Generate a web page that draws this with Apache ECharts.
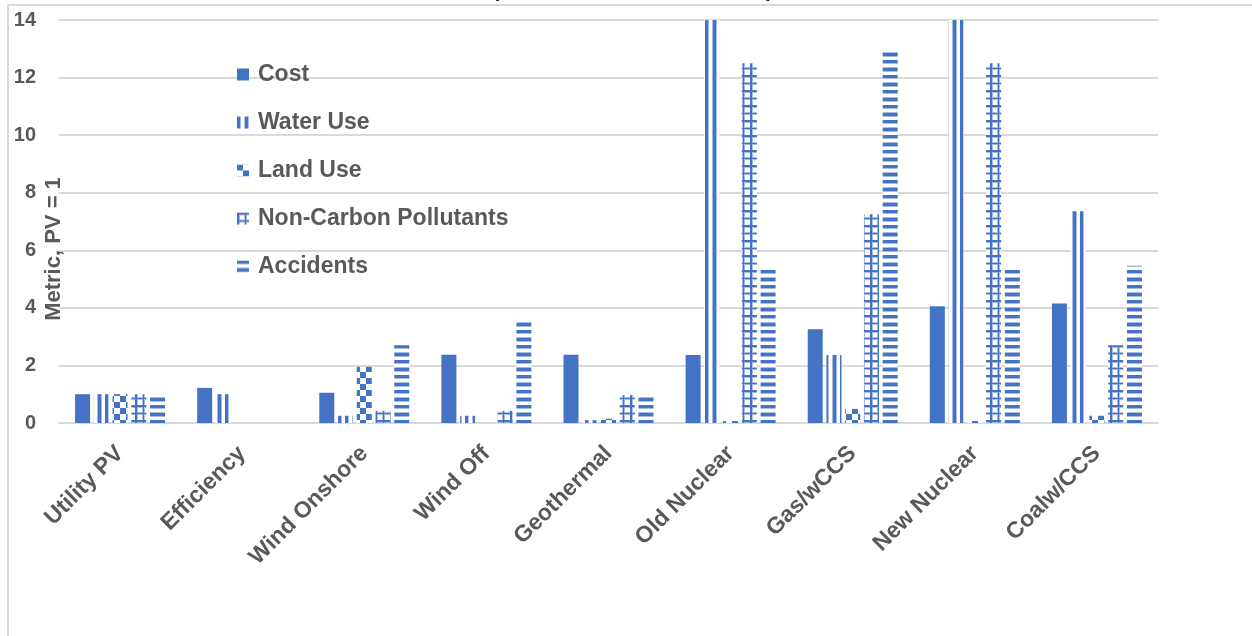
<!DOCTYPE html>
<html>
<head>
<meta charset="utf-8">
<script src="https://cdn.jsdelivr.net/npm/echarts@6/dist/echarts.min.js"></script>
<style>
  html, body { margin: 0; padding: 0; background: #ffffff; }
  #chart { width: 1252px; height: 636px; }
</style>
</head>
<body>
<div id="chart"></div>
<script>
// Categories (technologies) and metric values, normalised so that utility PV = 1
const categories = ['Utility PV', 'Efficiency', 'Wind Onshore', 'Wind Off', 'Geothermal',
                    'Old Nuclear', 'Gas/wCCS', 'New Nuclear', 'Coalw/CCS'];
const seriesNames = ['Cost', 'Water Use', 'Land Use', 'Non-Carbon Pollutants', 'Accidents'];
const cost        = [1.0, 1.22, 1.05, 2.37, 2.37, 2.36, 3.26, 4.06, 4.15];
const waterUse    = [1.0, 1.0, 0.25, 0.25, 0.1, 14, 2.36, 14, 7.36];
const landUse     = [1.0, 0, 1.95, 0, 0.15, 0.07, 0.49, 0.07, 0.25];
const nonCarbon   = [1.0, 0, 0.42, 0.42, 0.97, 12.5, 7.25, 12.5, 2.7];
const accidents   = [1.0, 0, 2.7, 3.6, 1.0, 5.35, 12.9, 5.35, 5.46];
const yTicks      = [0, 2, 4, 6, 8, 10, 12, 14];

const BLUE = '#4472C4';
const LIGHT = '#A9BCE4';
const TEXT = '#595959';
const GRID = '#D9D9D9';
const FONT = '"Liberation Sans", Arial, sans-serif';

// Small canvas tiles used as repeating fill patterns for the bars
function tile(w, h, draw) {
  const c = document.createElement('canvas');
  c.width = w; c.height = h;
  const g = c.getContext('2d');
  g.fillStyle = '#ffffff';
  g.fillRect(0, 0, w, h);
  draw(g);
  return c;
}
const verticalStripes = tile(15, 4, g => {
  g.fillStyle = BLUE; g.fillRect(0, 0, 3, 4); g.fillRect(8, 0, 3, 4);
  g.fillStyle = LIGHT; g.fillRect(3, 0, 1, 4); g.fillRect(11, 0, 1, 4); g.fillRect(7, 0, 1, 4);
});
const checker = tile(12, 12, g => {
  g.fillStyle = BLUE; g.fillRect(0, 0, 6, 6); g.fillRect(6, 6, 6, 6);
});
const plaid = tile(15, 15, g => {
  g.fillStyle = LIGHT;
  g.fillRect(0, 0, 15, 3); g.fillRect(0, 7, 15, 3);
  g.fillRect(0, 0, 3, 15); g.fillRect(7, 0, 3, 15);
  g.fillStyle = BLUE;
  g.fillRect(0, 0, 15, 2); g.fillRect(0, 8, 15, 1);
  g.fillRect(0, 0, 2, 15); g.fillRect(8, 0, 1, 15);
});
const horizontalStripes = tile(4, 15, g => {
  g.fillStyle = BLUE; g.fillRect(0, 0, 4, 3); g.fillRect(0, 8, 4, 3);
  g.fillStyle = LIGHT; g.fillRect(0, 3, 4, 1); g.fillRect(0, 11, 4, 1); g.fillRect(0, 7, 4, 1);
});

const fills = [
  BLUE,
  { image: verticalStripes, repeat: 'repeat' },
  { image: checker, repeat: 'repeat' },
  { image: plaid, repeat: 'repeat' },
  { image: horizontalStripes, repeat: 'repeat' }
];
const values = [cost, waterUse, landUse, nonCarbon, accidents];

const chart = echarts.init(document.getElementById('chart'), null, { renderer: 'canvas' });

const option = {
  backgroundColor: '#ffffff',
  animation: false,
  grid: { left: 59, right: 94, top: 20, bottom: 213, containLabel: false },
  legend: {
    orient: 'vertical',
    left: 237,
    top: 63,
    padding: 0,
    itemWidth: 12,
    itemHeight: 12,
    itemGap: 25,
    icon: 'rect',
    data: seriesNames,
    textStyle: { fontFamily: FONT, fontWeight: 'bold', fontSize: 23, color: TEXT, padding: [0, 0, 0, 4] }
  },
  xAxis: {
    type: 'category',
    data: categories,
    axisLine: { show: true, lineStyle: { color: GRID, width: 2 } },
    axisTick: { show: false },
    axisLabel: {
      rotate: 45,
      margin: 27,
      interval: 0,
      fontFamily: FONT,
      fontWeight: 'bold',
      fontSize: 23,
      color: TEXT
    }
  },
  yAxis: {
    type: 'value',
    min: 0,
    max: 14,
    interval: 2,
    axisLine: { show: false },
    axisTick: { show: false },
    splitLine: { lineStyle: { color: GRID, width: 2 } },
    axisLabel: {
      margin: 23,
      fontFamily: FONT,
      fontWeight: 'bold',
      fontSize: 20,
      color: TEXT,
      formatter: v => (yTicks.includes(v) ? String(v) : '')
    }
  },
  series: seriesNames.map((name, i) => ({
    name,
    type: 'bar',
    data: values[i],
    barWidth: 15,
    barGap: '25%',
    clip: true,
    itemStyle: { color: fills[i] }
  })),
  graphic: [
    // outer frame edges
    { type: 'line', shape: { x1: 8, y1: 5, x2: 1252, y2: 5 }, style: { stroke: GRID, lineWidth: 2 } },
    { type: 'line', shape: { x1: 8, y1: 5, x2: 8, y2: 636 }, style: { stroke: GRID, lineWidth: 2 } },
    // tails of the title brackets above the frame
    { type: 'text', x: 492, y: 1, style: { text: '(', font: 'bold 22px ' + FONT, fill: '#222222', textVerticalAlign: 'bottom' } },
    { type: 'text', x: 766, y: 1, style: { text: ')', font: 'bold 22px ' + FONT, fill: '#222222', textVerticalAlign: 'bottom' } },
    // y axis title
    {
      type: 'text',
      x: 54, y: 249,
      rotation: Math.PI / 2,
      style: {
        text: 'Metric, PV = 1',
        font: 'bold 22px ' + FONT,
        fill: TEXT,
        textAlign: 'center',
        textVerticalAlign: 'middle'
      }
    }
  ]
};

chart.setOption(option);
</script>
</body>
</html>
